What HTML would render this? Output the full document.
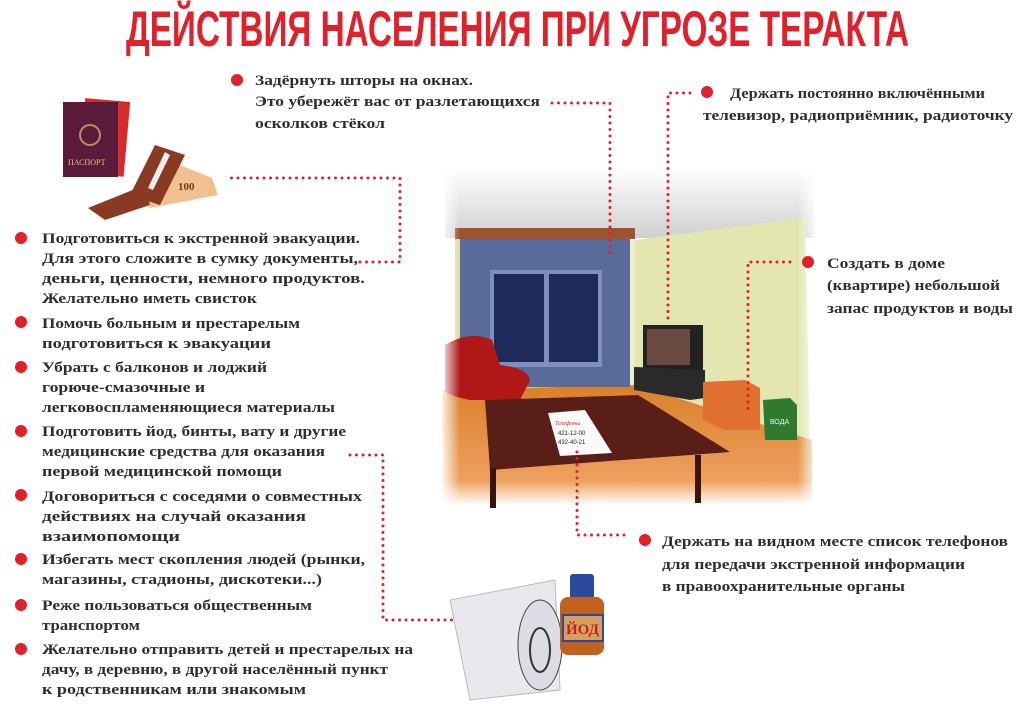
<!DOCTYPE html>
<html><head><meta charset="utf-8"><style>
html,body{margin:0;padding:0;background:#fff;}
svg{display:block}
.t{font-family:"Liberation Serif","DejaVu Serif",serif;font-weight:bold;font-size:14.5px;fill:#2e2e2e}
.d{fill:none;stroke:#e0202a;stroke-width:3;stroke-dasharray:0 6.5;stroke-linecap:round}
</style></head><body>
<svg width="1024" height="708" viewBox="0 0 1024 708" xmlns="http://www.w3.org/2000/svg">
<defs>
<linearGradient id="ceil" x1="0" y1="0" x2="0" y2="1"><stop offset="0" stop-color="#fff"/><stop offset="1" stop-color="#cfcfcf"/></linearGradient>
<linearGradient id="floor" x1="0" y1="0" x2="0" y2="1"><stop offset="0" stop-color="#d9802a"/><stop offset="0.8" stop-color="#eea060"/><stop offset="1" stop-color="#fff"/></linearGradient>
<linearGradient id="wall" x1="0" y1="0" x2="1" y2="0"><stop offset="0" stop-color="#d9dca0"/><stop offset="1" stop-color="#eef0c8"/></linearGradient>
<linearGradient id="fl" x1="0" y1="0" x2="1" y2="0"><stop offset="0" stop-color="#fff"/><stop offset="1" stop-color="#fff" stop-opacity="0"/></linearGradient>
<linearGradient id="fr" x1="1" y1="0" x2="0" y2="0"><stop offset="0" stop-color="#fff"/><stop offset="1" stop-color="#fff" stop-opacity="0"/></linearGradient>
</defs>
<text x="126" y="46" textLength="783" lengthAdjust="spacingAndGlyphs" font-family="Liberation Sans Narrow,Liberation Sans,sans-serif" font-weight="bold" font-size="50" fill="#e0202a">ДЕЙСТВИЯ НАСЕЛЕНИЯ ПРИ УГРОЗЕ ТЕРАКТА</text>

<rect x="445" y="168" width="370" height="70" fill="url(#ceil)"/>
<polygon points="455,232 635,240 635,390 455,395" fill="url(#wall)"/>
<polygon points="635,240 805,218 810,440 635,390" fill="#e4e6b0"/>
<polygon points="442,390 635,385 812,440 812,505 442,505" fill="url(#floor)"/>
<rect x="455" y="228" width="180" height="11" fill="#a0522d"/>
<rect x="460" y="239" width="170" height="148" fill="#5a6a9a"/>
<rect x="490" y="270" width="112" height="97" fill="#7f8fbf"/>
<rect x="494" y="274" width="50" height="88" fill="#1e2a5a"/>
<rect x="549" y="274" width="49" height="88" fill="#1e2a5a"/>
<path d="M445,345 Q470,330 492,340 L500,365 Q528,368 530,380 L520,400 L470,400 Q445,395 445,390 Z" fill="#b01818"/>
<rect x="643" y="325" width="60" height="45" fill="#222"/>
<rect x="647" y="329" width="43" height="36" fill="#6a4a40"/>
<polygon points="634,367 705,370 705,398 690,400 634,390" fill="#2a2a2a"/>
<polygon points="703,382 745,380 760,388 760,430 725,430 703,420" fill="#e07030"/>
<polygon points="763,400 790,398 797,405 797,440 765,440" fill="#2f7a2f"/>
<text x="770" y="424" font-family="Liberation Sans,sans-serif" font-size="7" fill="#dfe">ВОДА</text>
<polygon points="485,400 638,395 730,452 490,470" fill="#5a1e18"/>
<rect x="490" y="468" width="6" height="40" fill="#3a1410"/>
<rect x="695" y="455" width="6" height="48" fill="#3a1410"/>
<polygon points="548,413 585,410 612,453 560,456" fill="#fafafa"/>
<text x="555" y="425" font-family="Liberation Serif,serif" font-size="6" fill="#c22" font-style="italic">Телефоны</text>
<text x="558" y="435" font-family="Liberation Sans,sans-serif" font-size="6" fill="#223">421-12-00</text>
<text x="558" y="444" font-family="Liberation Sans,sans-serif" font-size="6" fill="#223">432-40-21</text>
<rect x="440" y="165" width="20" height="345" fill="url(#fl)"/>
<rect x="798" y="165" width="20" height="345" fill="url(#fr)"/>

<rect x="82" y="100" width="45" height="75" fill="#d82a2a" transform="rotate(5 105 137)"/>
<rect x="63" y="102" width="55" height="75" fill="#5a1a3a"/>
<text x="68" y="165" font-family="Liberation Serif,serif" font-size="8" fill="#e8c080">ПАСПОРТ</text>
<circle cx="90" cy="135" r="10" fill="none" stroke="#b89060" stroke-width="2"/>
<polygon points="140,185 180,165 212,178 218,195 150,208" fill="#f0c090"/>
<polygon points="88,208 145,185 150,205 105,220" fill="#8a3a22"/>
<polygon points="130,195 155,145 185,155 160,205" fill="#8a3a22"/>
<polygon points="148,188 165,152 170,155 153,190" fill="#eee"/>
<text x="178" y="190" font-family="Liberation Serif,serif" font-weight="bold" font-size="11" fill="#7a3a10">100</text>

<path d="M450,600 L555,580 L560,690 L470,700 Z" fill="#e8e8ee" stroke="#bbb"/>
<ellipse cx="540" cy="645" rx="22" ry="45" fill="#dcdce4" stroke="#444" stroke-width="1"/>
<ellipse cx="540" cy="650" rx="10" ry="22" fill="none" stroke="#333" stroke-width="2"/>
<rect x="570" y="574" width="24" height="25" rx="3" fill="#2a4aa0"/>
<rect x="560" y="597" width="44" height="58" rx="8" fill="#c0621e"/>
<rect x="563" y="615" width="40" height="26" fill="#d8a060" stroke="#2a4aa0" stroke-width="2"/>
<text x="566" y="634" font-family="Liberation Serif,serif" font-weight="bold" font-size="15" fill="#c02020">ЙОД</text>

<path class="d" d="M360,262 H400 V178 H230"/>
<path class="d" d="M552,103 H610 V258"/>
<path class="d" d="M690,93 H668 V320"/>
<path class="d" d="M790,262 H748 V410"/>
<path class="d" d="M577,452 V535 H625"/>
<path class="d" d="M350,455 H383 V620 H455"/>

<g fill="#e0202a">
<circle cx="237" cy="80" r="6"/><circle cx="707" cy="92" r="6"/><circle cx="808" cy="262" r="6"/><circle cx="645" cy="540" r="6"/>
<circle cx="21" cy="238" r="6"/><circle cx="21" cy="322" r="6"/><circle cx="21" cy="367" r="6"/><circle cx="21" cy="431" r="6"/>
<circle cx="21" cy="495" r="6"/><circle cx="21" cy="559" r="6"/><circle cx="21" cy="605" r="6"/><circle cx="21" cy="649" r="6"/>
</g>

<text class="t" x="255" y="85" textLength="218" lengthAdjust="spacingAndGlyphs">Задёрнуть шторы на окнах.</text>
<text class="t" x="255" y="106" textLength="285" lengthAdjust="spacingAndGlyphs">Это убережёт вас от разлетающихся</text>
<text class="t" x="255" y="128" textLength="130" lengthAdjust="spacingAndGlyphs">осколков стёкол</text>

<text class="t" x="730" y="98" textLength="255" lengthAdjust="spacingAndGlyphs">Держать постоянно включёнными</text>
<text class="t" x="703" y="120" textLength="310" lengthAdjust="spacingAndGlyphs">телевизор, радиоприёмник, радиоточку</text>

<text class="t" x="827" y="268" textLength="118" lengthAdjust="spacingAndGlyphs">Создать в доме</text>
<text class="t" x="827" y="290" textLength="173" lengthAdjust="spacingAndGlyphs">(квартире) небольшой</text>
<text class="t" x="827" y="313" textLength="186" lengthAdjust="spacingAndGlyphs">запас продуктов и воды</text>

<text class="t" x="662" y="546" textLength="346" lengthAdjust="spacingAndGlyphs">Держать на видном месте список телефонов</text>
<text class="t" x="662" y="569" textLength="303" lengthAdjust="spacingAndGlyphs">для передачи экстренной информации</text>
<text class="t" x="662" y="591" textLength="243" lengthAdjust="spacingAndGlyphs">в правоохранительные органы</text>

<text class="t" x="42" y="243" textLength="318" lengthAdjust="spacingAndGlyphs">Подготовиться к экстренной эвакуации.</text>
<text class="t" x="42" y="263" textLength="316" lengthAdjust="spacingAndGlyphs">Для этого сложите в сумку документы,</text>
<text class="t" x="42" y="283" textLength="323" lengthAdjust="spacingAndGlyphs">деньги, ценности, немного продуктов.</text>
<text class="t" x="42" y="303" textLength="215" lengthAdjust="spacingAndGlyphs">Желательно иметь свисток</text>
<text class="t" x="42" y="328" textLength="258" lengthAdjust="spacingAndGlyphs">Помочь больным и престарелым</text>
<text class="t" x="42" y="348" textLength="229" lengthAdjust="spacingAndGlyphs">подготовиться к эвакуации</text>
<text class="t" x="42" y="372" textLength="225" lengthAdjust="spacingAndGlyphs">Убрать с балконов и лоджий</text>
<text class="t" x="42" y="392" textLength="163" lengthAdjust="spacingAndGlyphs">горюче-смазочные и</text>
<text class="t" x="42" y="412" textLength="293" lengthAdjust="spacingAndGlyphs">легковоспламеняющиеся материалы</text>
<text class="t" x="42" y="436" textLength="304" lengthAdjust="spacingAndGlyphs">Подготовить йод, бинты, вату и другие</text>
<text class="t" x="42" y="456" textLength="283" lengthAdjust="spacingAndGlyphs">медицинские средства для оказания</text>
<text class="t" x="42" y="476" textLength="240" lengthAdjust="spacingAndGlyphs">первой медицинской помощи</text>
<text class="t" x="42" y="501" textLength="320" lengthAdjust="spacingAndGlyphs">Договориться с соседями о совместных</text>
<text class="t" x="42" y="521" textLength="264" lengthAdjust="spacingAndGlyphs">действиях на случай оказания</text>
<text class="t" x="42" y="541" textLength="138" lengthAdjust="spacingAndGlyphs">взаимопомощи</text>
<text class="t" x="42" y="564" textLength="323" lengthAdjust="spacingAndGlyphs">Избегать мест скопления людей (рынки,</text>
<text class="t" x="42" y="584" textLength="280" lengthAdjust="spacingAndGlyphs">магазины, стадионы, дискотеки...)</text>
<text class="t" x="42" y="610" textLength="270" lengthAdjust="spacingAndGlyphs">Реже пользоваться общественным</text>
<text class="t" x="42" y="630" textLength="98" lengthAdjust="spacingAndGlyphs">транспортом</text>
<text class="t" x="42" y="654" textLength="371" lengthAdjust="spacingAndGlyphs">Желательно отправить детей и престарелых на</text>
<text class="t" x="42" y="674" textLength="346" lengthAdjust="spacingAndGlyphs">дачу, в деревню, в другой населённый пункт</text>
<text class="t" x="42" y="694" textLength="264" lengthAdjust="spacingAndGlyphs">к родственникам или знакомым</text>
</svg>
</body></html>
